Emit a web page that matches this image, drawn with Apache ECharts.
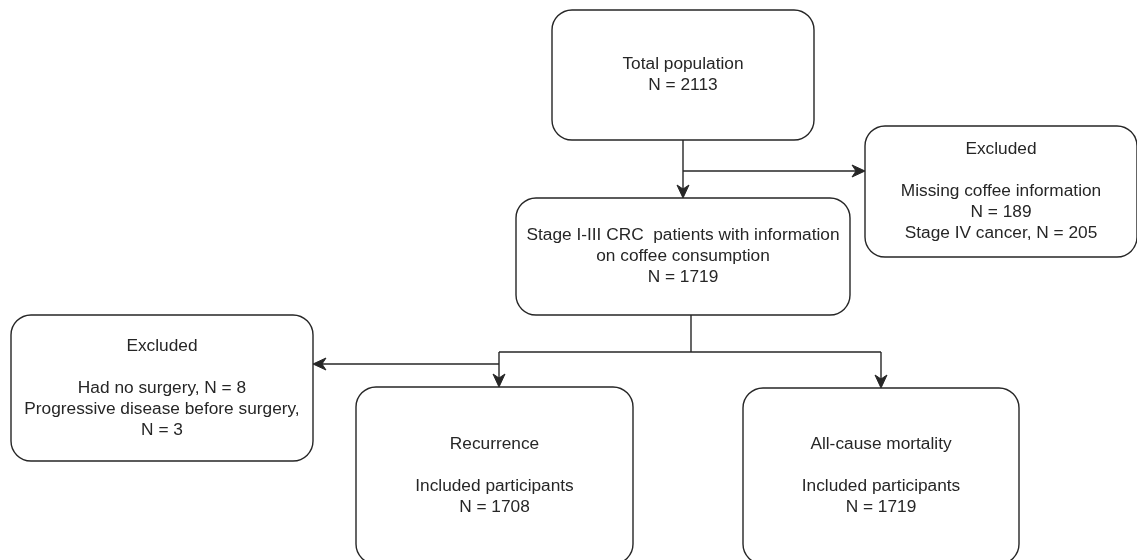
<!DOCTYPE html>
<html>
<head>
<meta charset="utf-8">
<script src="https://cdn.jsdelivr.net/npm/echarts@6/dist/echarts.min.js"></script>
<style>
  html, body { margin: 0; padding: 0; background: #ffffff; }
  #chart { width: 1137px; height: 560px; }
</style>
</head>
<body>
<div id="chart"></div>
<script>
// ---- Data (flow counts and labels) ----
const totalLabel = 'Total population';
const totalN = 2113;
const excludedTitle = 'Excluded';
const excludedReasons1 = ['Missing coffee information', 'Stage IV cancer'];
const excludedCounts1 = [189, 205];
const eligibleLabel = ['Stage I-III CRC  patients with information', 'on coffee consumption'];
const eligibleN = 1719;
const excludedReasons2 = ['Had no surgery', 'Progressive disease before surgery'];
const excludedCounts2 = [8, 3];
const outcomeLabels = ['Recurrence', 'All-cause mortality'];
const outcomeSubLabel = 'Included participants';
const outcomeN = [1708, 1719];

// ---- Box texts built from the data ----
const boxTexts = [
  [totalLabel, 'N = ' + totalN],
  [excludedTitle, '', excludedReasons1[0], 'N = ' + excludedCounts1[0], excludedReasons1[1] + ', N = ' + excludedCounts1[1]],
  [eligibleLabel[0], eligibleLabel[1], 'N = ' + eligibleN],
  [excludedTitle, '', excludedReasons2[0] + ', N = ' + excludedCounts2[0], excludedReasons2[1] + ',', 'N = ' + excludedCounts2[1]],
  [outcomeLabels[0], '', outcomeSubLabel, 'N = ' + outcomeN[0]],
  [outcomeLabels[1], '', outcomeSubLabel, 'N = ' + outcomeN[1]]
];

// ---- Layout (diagram coordinates: x0, y0, x1, y1) ----
const boxLayout = [
  [552, 10, 814, 140],
  [865, 126, 1137, 257],
  [516, 198, 850, 315],
  [11, 315, 313, 461],
  [356, 387, 633, 564],
  [743, 388, 1019, 564]
];
// connector polylines, last flag = arrow at end
const connectorLayout = [
  { pts: [[683, 140], [683, 198]], arrow: true },
  { pts: [[683, 171], [865, 171]], arrow: true },
  { pts: [[691, 315], [691, 352]], arrow: false },
  { pts: [[499, 352], [881, 352]], arrow: false },
  { pts: [[499, 352], [499, 387]], arrow: true },
  { pts: [[881, 352], [881, 388]], arrow: true },
  { pts: [[499, 364], [313, 364]], arrow: true }
];

const INK = '#262626';
const FONT_FAMILY = '"Liberation Sans", Arial, Helvetica, sans-serif';
const FONT_SIZE = 17.3;
const LINE_H = 21;

const chart = echarts.init(document.getElementById('chart'), null, { renderer: 'canvas' });

function renderBox(params, api) {
  const i = params.dataIndex;
  const p0 = api.coord([api.value(0), api.value(1)]);
  const p1 = api.coord([api.value(2), api.value(3)]);
  const x = Math.min(p0[0], p1[0]), y = Math.min(p0[1], p1[1]);
  const w = Math.abs(p1[0] - p0[0]), h = Math.abs(p1[1] - p0[1]);
  return {
    type: 'group',
    children: [
      {
        type: 'rect',
        shape: { x: x, y: y, width: w, height: h, r: 20 },
        style: { fill: '#ffffff', stroke: INK, lineWidth: 1.4 }
      },
      {
        type: 'text',
        style: {
          text: boxTexts[i].join('\n'),
          x: x + w / 2,
          y: y + h / 2,
          align: 'center',
          verticalAlign: 'middle',
          fontSize: FONT_SIZE,
          fontFamily: FONT_FAMILY,
          lineHeight: LINE_H,
          fill: INK
        }
      }
    ]
  };
}

function renderConnector(params, api) {
  const c = connectorLayout[params.dataIndex];
  const pts = c.pts.map(p => api.coord(p));
  const children = [];
  const n = pts.length;
  let linePts = pts.slice();
  if (c.arrow) {
    const a = pts[n - 2], b = pts[n - 1];
    const dx = b[0] - a[0], dy = b[1] - a[1];
    const len = Math.sqrt(dx * dx + dy * dy) || 1;
    const ux = dx / len, uy = dy / len;
    const px = -uy, py = ux;
    const L = 13, W = 6, notch = 9;
    const tip = b;
    const bl = [b[0] - ux * L + px * W, b[1] - uy * L + py * W];
    const br = [b[0] - ux * L - px * W, b[1] - uy * L - py * W];
    const nt = [b[0] - ux * notch, b[1] - uy * notch];
    linePts[n - 1] = nt;
    children.push({
      type: 'polygon',
      z2: 2,
      shape: { points: [tip, bl, nt, br] },
      style: { fill: INK, stroke: INK, lineWidth: 1, lineJoin: 'miter' }
    });
  }
  children.unshift({
    type: 'polyline',
    shape: { points: linePts },
    style: { stroke: INK, lineWidth: 1.4, fill: null }
  });
  return { type: 'group', children: children };
}

const option = {
  animation: false,
  backgroundColor: '#ffffff',
  grid: { left: 0, right: 0, top: 0, bottom: 0 },
  xAxis: { type: 'value', min: 0, max: 1137, show: false },
  yAxis: { type: 'value', min: 0, max: 560, inverse: true, show: false },
  series: [
    {
      type: 'custom',
      name: 'connectors',
      clip: false,
      silent: true,
      renderItem: renderConnector,
      encode: { x: 0, y: 1 },
      data: connectorLayout.map(c => [c.pts[0][0], c.pts[0][1]])
    },
    {
      type: 'custom',
      name: 'boxes',
      clip: false,
      silent: true,
      renderItem: renderBox,
      encode: { x: [0, 2], y: [1, 3] },
      data: boxLayout
    }
  ]
};

chart.setOption(option);
</script>
</body>
</html>
